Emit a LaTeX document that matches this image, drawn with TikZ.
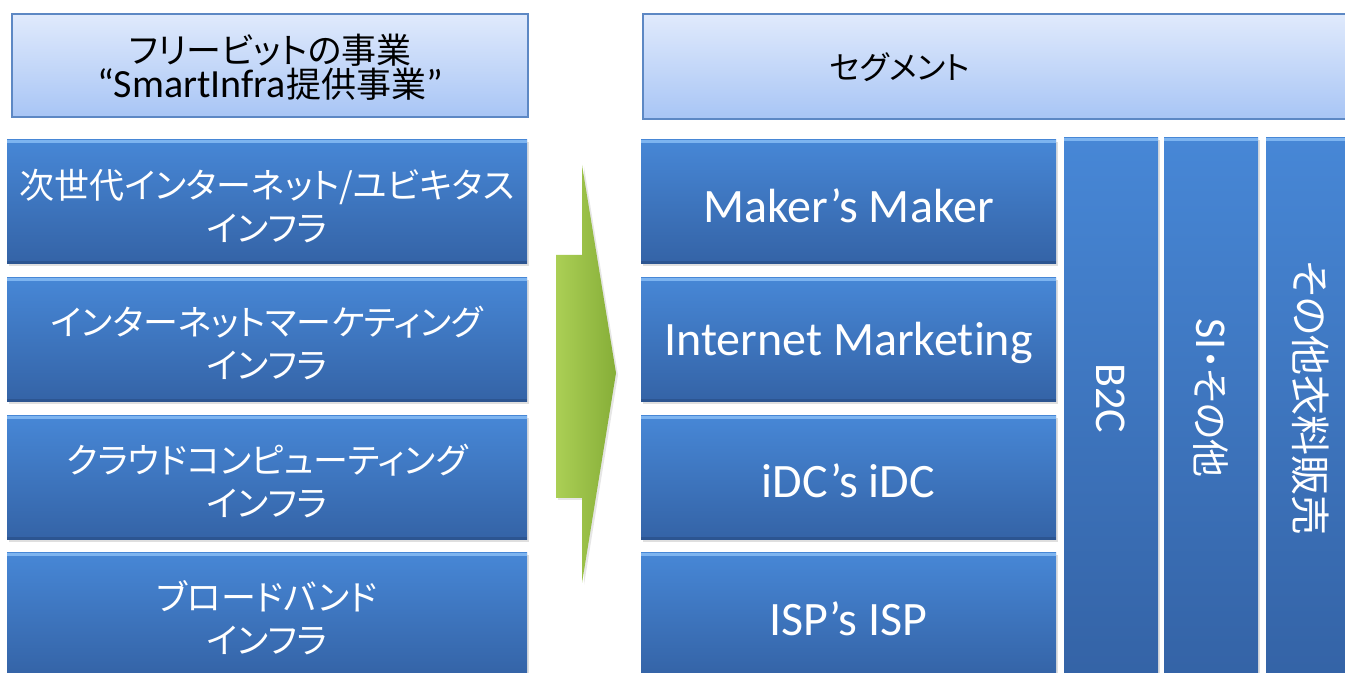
\documentclass[tikz,border=0pt]{standalone}
\usepackage{fontspec}
\setmainfont{Carlito}[Ligatures=NoCommon]
\newfontfamily\jp[RawFeature=+palt]{Noto Sans CJK JP}
\usetikzlibrary{shadows}

\definecolor{hdtop}{HTML}{E0EAFC}
\definecolor{hdbot}{HTML}{A8C5F5}
\definecolor{hdline}{HTML}{5D88C4}
\definecolor{bxtop}{HTML}{4787D6}
\definecolor{bxbot}{HTML}{3463A6}
\definecolor{bxhi}{HTML}{7DB4F0}
\definecolor{bxlo}{HTML}{2C5591}
\definecolor{arrl}{HTML}{ABCF55}
\definecolor{arrr}{HTML}{86AE38}

\begin{document}
\begin{tikzpicture}[x=0.5pt, y=-0.5pt,
    hbox/.style={draw=hdline, line width=0.8pt, top color=hdtop, bottom color=hdbot, inner sep=0pt},
    bbox/.style={top color=bxtop, bottom color=bxbot, inner sep=0pt, text=white,
      drop shadow={opacity=0.25, shadow xshift=0.8pt, shadow yshift=-1pt},
      path picture={
        \fill[bxhi] (path picture bounding box.north west) rectangle ([yshift=-1.5pt]path picture bounding box.north east);
        \fill[bxlo] (path picture bounding box.south west) rectangle ([yshift=1.5pt]path picture bounding box.south east);
      }},
    lbox/.style={bbox, minimum width=260pt, minimum height=62pt},
    ltext/.style={text=white, align=center, inner sep=0pt, font=\jp\fontsize{17.5}{21.5}\selectfont},
    rbox/.style={bbox, minimum width=207.5pt, minimum height=62pt},
    rtext/.style={text=white, inner sep=0pt, font=\fontsize{24}{28}\selectfont},
    cbox/.style={bbox, minimum width=47pt, minimum height=270pt},
    ctext/.style={text=white, rotate=-90, inner sep=0pt}]

    \useasboundingbox (0,0) rectangle (1345,673);
    \clip (0,0) rectangle (1345,673);

    \node[hbox, minimum width=258pt, minimum height=51.5pt] (h1) at (270,65.5) {};
    \node[align=center, inner sep=0pt] (h1t) at (270,67)
      {{\jp\fontsize{17.5}{23}\selectfont フリービットの事業}\\
       {\fontsize{20}{23}\selectfont “SmartInfra}{\jp\fontsize{17.5}{23}\selectfont 提供事業}{\fontsize{20}{23}\selectfont ”}};
    \node[hbox, minimum width=358.5pt, minimum height=52.5pt] (h2) at (1001.5,66.5) {};
    \node[inner sep=0pt, font=\jp\fontsize{16}{20}\selectfont] (h2t) at (900,67) {セグメント};

    \node[lbox] (l1) at (267,202) {};
    \node[lbox] (l2) at (267,340) {};
    \node[lbox] (l3) at (267,478) {};
    \node[lbox] (l4) at (267,615) {};
    \node[ltext] (l1t) at (267,206) {次世代インターネット/ユビキタス\\インフラ};
    \node[ltext] (l2t) at (267,343) {インターネットマーケティング\\インフラ};
    \node[ltext] (l3t) at (267,481) {クラウドコンピューティング\\インフラ};
    \node[ltext] (l4t) at (267,618) {ブロードバンド\\インフラ};

    \shade[left color=arrl, right color=arrr, drop shadow={opacity=0.2, shadow xshift=1pt, shadow yshift=-1pt}]
      (556,255) -- (582,255) -- (582,165) -- (616,373) -- (582,583) -- (582,498) -- (556,498) -- cycle;

    \node[rbox] (r1) at (848.5,202) {};
    \node[rbox] (r2) at (848.5,340) {};
    \node[rbox] (r3) at (848.5,478) {};
    \node[rbox] (r4) at (848.5,615) {};
    \node[rtext] (r1t) at (848.5,206) {Maker’s Maker};
    \node[rtext] (r2t) at (848.5,343) {Internet Marketing};
    \node[rtext] (r3t) at (848.5,481) {iDC’s iDC};
    \node[rtext] (r4t) at (848.5,619) {ISP’s ISP};

    \node[cbox] (c1) at (1111,408) {};
    \node[cbox] (c2) at (1211,408) {};
    \node[cbox] (c3) at (1313,408) {};
    \node[ctext, font=\fontsize{22}{26}\selectfont] (c1t) at (1111,398) {B2C};
    \node[ctext] (c2t) at (1211,398)
      {{\fontsize{22}{26}\selectfont SI}{\jp\fontsize{19}{24}\selectfont ・その他}};
    \node[ctext, font=\jp\fontsize{20}{24}\selectfont] (c3t) at (1311,398) {その他衣料販売};

\end{tikzpicture}
\end{document}
